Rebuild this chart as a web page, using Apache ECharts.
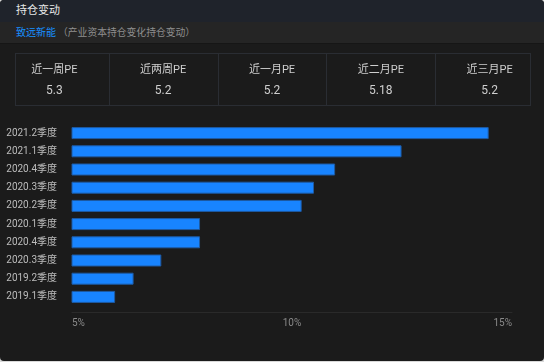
<!DOCTYPE html>
<html>
<head>
<meta charset="utf-8">
<script src="https://cdn.jsdelivr.net/npm/echarts@6/dist/echarts.min.js"></script>
<style>
html,body{margin:0;padding:0;background:#d9d9d9;width:544px;height:362px;overflow:hidden;}
#panel{position:absolute;left:0;top:0;width:544px;height:361px;background:#1b1b1b;border-radius:4px;overflow:hidden;font-family:Roboto,"Noto Sans CJK SC",sans-serif;}
#hdr{position:absolute;left:0;top:0;width:544px;height:22px;background:#1f232b;color:#e8e8e8;font-size:11px;line-height:22px;}
#hdr span{position:absolute;left:16px;}
#sub{position:absolute;left:0;top:22px;width:544px;height:21px;background:#252525;border-bottom:1px solid #161616;font-size:10px;line-height:21px;}
#sub .nm{position:absolute;left:16px;color:#1890ff;}
#sub .ds{position:absolute;left:58px;color:#8f8f8f;font-size:9.8px;}
#cards{position:absolute;left:15px;top:53px;width:514px;height:51px;border:1px solid #2a2d33;}
.div{position:absolute;top:53px;height:53px;width:1px;background:#2a2d33;}
.ct{position:absolute;top:62px;width:108.8px;text-align:center;color:#cfcfcf;font-size:11px;line-height:16px;}
.cv{position:absolute;top:82px;width:108.8px;text-align:center;color:#cfcfcf;font-size:12px;line-height:16px;}
#chart{position:absolute;left:0;top:0;width:544px;height:361px;}
</style>
</head>
<body>
<div id="panel">
  <div id="hdr"><span id="title"></span></div>
  <div id="sub"><span class="nm" id="company"></span><span class="ds" id="desc"></span></div>
  <div id="cards"></div>
  <div id="chart"></div>
</div>
<script>
// ---- data ----
var panelTitle = '持仓变动';
var companyName = '致远新能';
var companyDesc = '（产业资本持仓变化持仓变动）';
var peLabels = ['近一周PE', '近两周PE', '近一月PE', '近二月PE', '近三月PE'];
var peValues = ['5.3', '5.2', '5.2', '5.18', '5.2'];
var categories = ['2021.2季度', '2021.1季度', '2020.4季度', '2020.3季度', '2020.2季度',
                  '2020.1季度', '2020.4季度', '2020.3季度', '2019.2季度', '2019.1季度'];
var holdingPct = [14.47, 12.49, 10.98, 10.5, 10.22, 7.91, 7.91, 7.03, 6.40, 5.98];
var axisMin = 5, axisMax = 15, axisStep = 5;

// ---- header / cards (HTML text) ----
document.getElementById('title').textContent = panelTitle;
document.getElementById('company').textContent = companyName;
document.getElementById('desc').textContent = companyDesc;
var panel = document.getElementById('panel');
var colW = 544 / peLabels.length;
for (var i = 0; i < peLabels.length; i++) {
  var t = document.createElement('div');
  t.className = 'ct'; t.style.left = (colW * i) + 'px'; t.textContent = peLabels[i];
  panel.appendChild(t);
  var v = document.createElement('div');
  v.className = 'cv'; v.style.left = (colW * i) + 'px'; v.textContent = peValues[i];
  panel.appendChild(v);
  if (i > 0) {
    var d = document.createElement('div');
    d.className = 'div'; d.style.left = Math.round(colW * i) + 'px';
    panel.appendChild(d);
  }
}

// ---- chart ----
var chart = echarts.init(document.getElementById('chart'), null, {renderer: 'canvas'});
chart.setOption({
  backgroundColor: 'transparent',
  animation: false,
  textStyle: {fontFamily: 'Roboto, "Noto Sans CJK SC", sans-serif'},
  grid: {left: 72, width: 440, top: 124, height: 182, containLabel: false},
  xAxis: {
    type: 'value', min: axisMin, max: axisMax, interval: axisStep,
    offset: 6,
    axisLine: {show: true, lineStyle: {color: '#2a2a2a', width: 1}},
    axisTick: {show: false},
    splitLine: {show: false},
    axisLabel: {
      formatter: '{value}%', color: '#8a8a8a', fontSize: 10, margin: 6,
      alignMinLabel: 'left', alignMaxLabel: 'right'
    }
  },
  yAxis: {
    type: 'category', inverse: true, data: categories,
    axisLine: {show: false}, axisTick: {show: false}, splitLine: {show: false},
    axisLabel: {color: '#bcbcbc', fontSize: 10, margin: 15}
  },
  series: [{
    type: 'bar', data: holdingPct, barWidth: 12,
    itemStyle: {color: '#1884ff', borderColor: '#1e5aa3', borderWidth: 1}
  }]
});
</script>
</body>
</html>
